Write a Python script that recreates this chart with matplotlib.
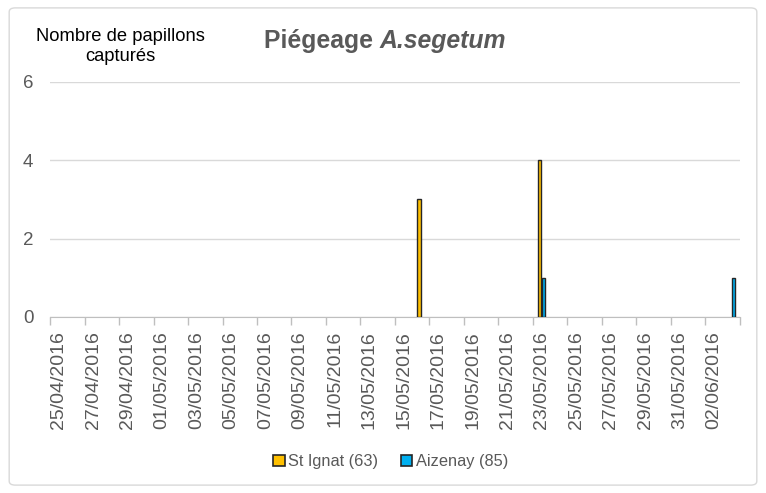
import matplotlib.pyplot as plt
import numpy as np
import pandas as pd
from matplotlib.patches import FancyBboxPatch

plt.rcParams['font.family'] = ['Liberation Sans', 'DejaVu Sans']

# data
dates = pd.date_range('2016-04-25', '2016-06-03', freq='D')
st_ignat_dates = ['2016-05-16', '2016-05-23']
st_ignat_vals = [3, 4]
aizenay_dates = ['2016-05-23', '2016-06-03']
aizenay_vals = [1, 1]

labels = [d.strftime('%d/%m/%Y') for d in dates]
x = np.arange(len(dates))

def to_series(ds, vals):
    s = pd.Series(0, index=dates)
    s[pd.to_datetime(ds)] = vals
    return s.values

y1 = to_series(st_ignat_dates, st_ignat_vals)
y2 = to_series(aizenay_dates, aizenay_vals)

fig = plt.figure(figsize=(7.66, 4.93), dpi=100)
ax = fig.add_axes([0.0653, 0.357, 0.9007, 0.477])

w = 0.2
m1 = y1 > 0
m2 = y2 > 0
ax.bar(x[m1] - 0.12, y1[m1], width=w, color='#FFC000', edgecolor='#262626', linewidth=1,
       label='St Ignat (63)', zorder=3)
ax.bar(x[m2] + 0.12, y2[m2], width=w, color='#00B0F0', edgecolor='#262626', linewidth=1,
       label='Aizenay (85)', zorder=3)

ax.set_xlim(-0.5, len(dates) - 0.5)
ax.set_ylim(0, 6)
ax.set_yticks([0, 2, 4, 6])
ax.grid(axis='y', color='#D9D9D9', linewidth=1)
ax.set_axisbelow(True)

ax.set_xticks(x[::2])
ax.set_xticklabels(labels[::2], rotation=90, fontsize=14, color='#595959')
ax.set_xticks(np.arange(-0.5, len(dates), 2), minor=True)
ax.tick_params(axis='x', which='major', length=0, pad=10)
ax.tick_params(axis='x', which='minor', length=6, color='#BFBFBF', width=1)
ax.tick_params(axis='y', length=0, labelsize=13.5, labelcolor='#595959', pad=12)

for s in ['top', 'right', 'left']:
    ax.spines[s].set_visible(False)
ax.spines['bottom'].set_color('#BFBFBF')

fig.text(0.157, 0.906, 'Nombre de papillons\ncapturés', ha='center', va='center',
         fontsize=13.2, linespacing=1.2)

t1 = fig.text(0.344, 0.893, 'Piégeage ', fontsize=17.8, fontweight='bold', color='#595959',
              ha='left', va='bottom')
ax.annotate('A.segetum', xy=(1, 0), xycoords=t1, ha='left', va='bottom', fontsize=17.8,
            fontweight='bold', style='italic', color='#595959')

leg = fig.legend(loc='center', bbox_to_anchor=(0.51, 0.063), ncol=2, frameon=False,
                 fontsize=11.8, handlelength=0.7, handleheight=0.7, handletextpad=0.2,
                 columnspacing=1.4)
for t in leg.get_texts():
    t.set_color('#595959')
for h in leg.legend_handles:
    h.set_linewidth(1.2)

fig.patches.append(FancyBboxPatch((0.012, 0.016), 0.976, 0.968, boxstyle='round,pad=0,rounding_size=0.008',
                                  transform=fig.transFigure, facecolor='none', edgecolor='#D9D9D9',
                                  linewidth=1))

fig.savefig('out.png', dpi=100)
